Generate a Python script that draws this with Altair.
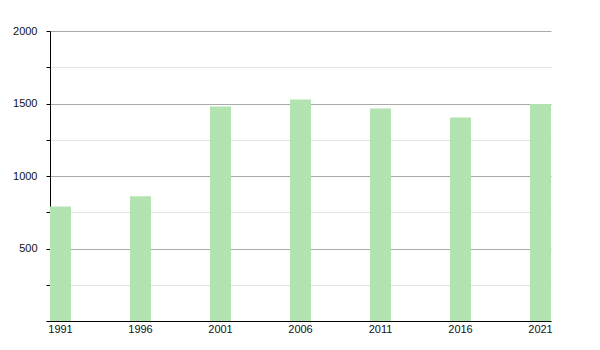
import altair as alt
import pandas as pd

years = ["1991", "1996", "2001", "2006", "2011", "2016", "2021"]
values = [790, 860, 1480, 1527, 1466, 1403, 1497]

df = pd.DataFrame({"year": years, "value": values})

chart = alt.Chart(df).mark_bar(color="#b3e3b0").encode(
    x=alt.X("year:N", sort=None, title=None,
            scale=alt.Scale(paddingInner=0.7375, paddingOuter=0),
            axis=alt.Axis(labelAngle=0, ticks=False, domainColor="#000",
                          labelColor="#111", labelFontSize=11, labelPadding=2,
                          labelFont="Liberation Sans")),
    y=alt.Y("value:Q", title=None,
            scale=alt.Scale(domain=[0, 2000], nice=False),
            axis=alt.Axis(values=list(range(0, 2001, 250)), format="d",
                          labelExpr="datum.value % 500 === 0 && datum.value > 0 ? datum.label : ''",
                          grid=True,
                          gridColor={"condition": {"test": "datum.value % 500 === 0", "value": "#aaaaaa"}, "value": "#e2e2e2"},
                          domainColor="#000", tickColor="#000", tickSize=4,
                          labelPadding=9, labelColor="#111", labelFontSize=11,
                          labelFont="Liberation Sans")),
).properties(
    width=501, height=290,
    autosize=alt.AutoSizeParams(type="none"),
    padding={"left": 50, "top": 31, "right": 49, "bottom": 29},
).configure(background="white").configure_view(strokeWidth=0, stroke="transparent")

chart.save("out.html", embed_options={"renderer": "svg", "actions": False})
